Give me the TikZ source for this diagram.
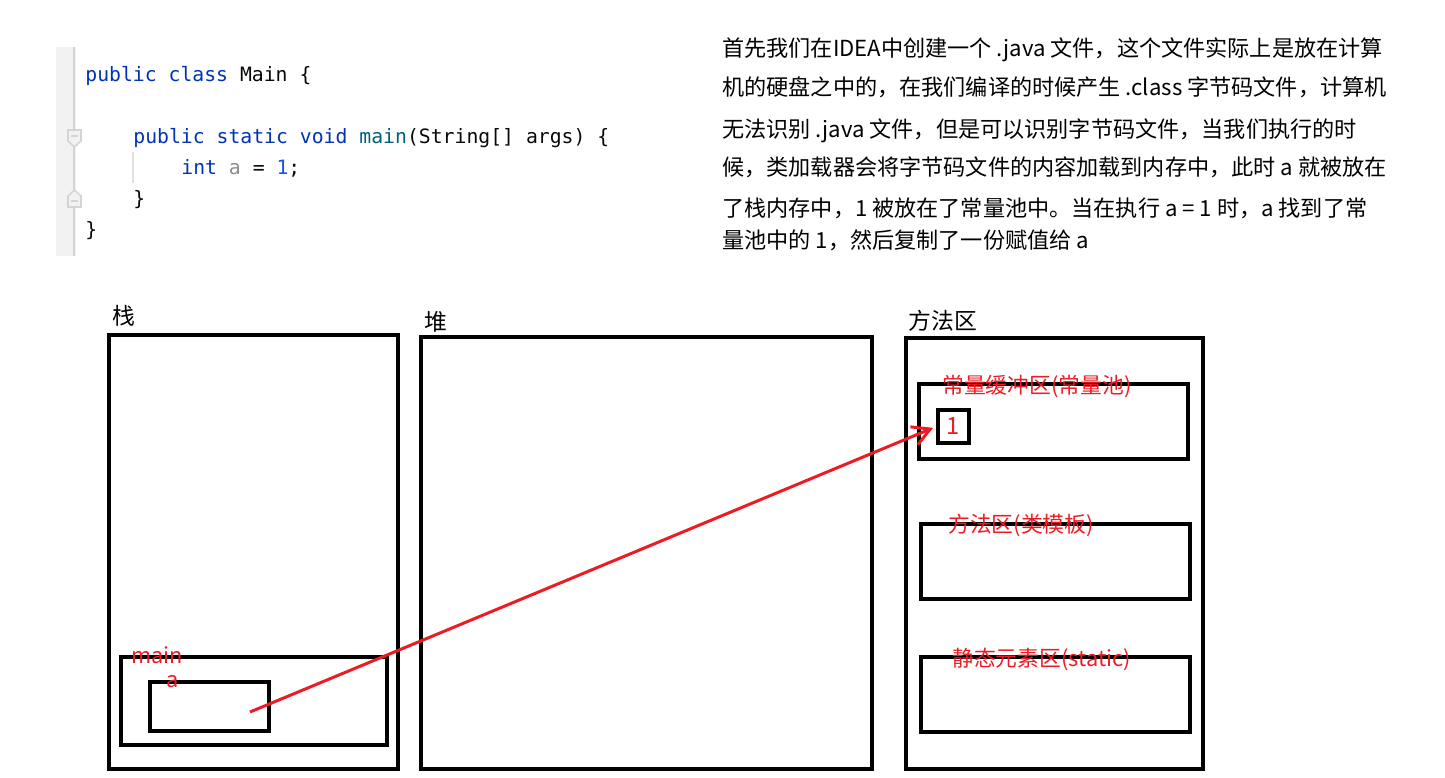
\documentclass[tikz,border=0pt]{standalone}
\usepackage{fontspec}
\setmainfont{Noto Sans CJK SC}
\newfontfamily\codefont{DejaVu Sans Mono}
\usetikzlibrary{arrows.meta,calc}

\definecolor{kwblue}{HTML}{0033B3}
\definecolor{fnteal}{HTML}{00627A}
\definecolor{numblue}{HTML}{1750EB}
\definecolor{unused}{HTML}{8C8C8C}
\definecolor{codeink}{HTML}{080808}
\definecolor{gutterbg}{HTML}{F2F2F2}
\definecolor{gutterln}{HTML}{D4D4D4}
\definecolor{paintred}{HTML}{ED1C24}

\begin{document}
\begin{tikzpicture}[
  x=0.02cm,y=-0.02cm,
  codeline/.style={anchor=base west,inner sep=0pt,text=codeink,font=\codefont\fontsize{11.25}{13}\selectfont},
  paraline/.style={anchor=base west,inner sep=0pt,font=\fontsize{12.6}{15}\selectfont},
  region/.style={draw,line width=1.8pt,inner sep=0pt},
  regionlbl/.style={anchor=base,inner sep=0pt,font=\fontsize{13}{15}\selectfont},
  redlbl/.style={anchor=base west,inner sep=0pt,text=paintred,font=\fontsize{12.4}{14}\selectfont},
  ref/.style={-{Straight Barb[length=10pt,width=11pt]},line width=1.7pt,paintred},
]
\useasboundingbox (0,0) rectangle (1445,778);

% ==== CODE (top left) ====
\fill[gutterbg] (56,47) rectangle (76,256);
\draw[gutterln,line width=1.2pt] (74,47) -- (74,256);
\filldraw[fill=gutterbg,draw=gutterln,line width=0.9pt] (68,130) -- (81,130) -- (81,141) -- (74.5,147) -- (68,141) -- cycle;
\draw[gutterln,line width=0.9pt] (71,136) -- (78,136);
\filldraw[fill=gutterbg,draw=gutterln,line width=0.9pt] (68,207) -- (81,207) -- (81,196) -- (74.5,190) -- (68,196) -- cycle;
\draw[gutterln,line width=0.9pt] (71,201) -- (78,201);
\draw[gutterln!70,line width=0.8pt] (133,152) -- (133,183);

\node[codeline] (cls) at (85,81) {\textcolor{kwblue}{public class} Main \{};
\node[codeline] (mth) at (133,143) {\textcolor{kwblue}{public static void} \textcolor{fnteal}{main}(String[] args) \{};
\node[codeline] (decl) at (181,174) {\textcolor{kwblue}{int} \textcolor{unused}{a} = \textcolor{numblue}{1};};
\node[codeline] (mthend) at (133,205) {\}};
\node[codeline] (clsend) at (85,236) {\}};

% ==== TEXT (top right) ====
\node[paraline] (para1) at (722,56) {首先我们在IDEA中创建一个 .java 文件，这个文件实际上是放在计算};
\node[paraline] (para2) at (722,95) {机的硬盘之中的，在我们编译的时候产生 .class 字节码文件，计算机};
\node[paraline] (para3) at (722,137) {无法识别 .java 文件，但是可以识别字节码文件，当我们执行的时};
\node[paraline] (para4) at (722,175) {候，类加载器会将字节码文件的内容加载到内存中，此时 a 就被放在};
\node[paraline] (para5) at (722,216) {了栈内存中，1 被放在了常量池中。当在执行 a = 1 时，a 找到了常};
\node[paraline] (para6) at (722,248) {量池中的 1，然后复制了一份赋值给 a};

% ==== STACK ====
\node[region,minimum width=5.78cm,minimum height=8.68cm] (stack) at (253.5,552) {};
\node[regionlbl] (stacklbl) at (124,324) {栈};
\node[region,minimum width=5.32cm,minimum height=1.76cm] (mainframe) at (254,701) {};
\node[region,minimum width=2.38cm,minimum height=0.98cm] (avar) at (209.5,706.5) {};
\node[redlbl] (mainlbl) at (131,663) {main};
\node[redlbl] (albl) at (166,687) {a};
\coordinate (aref) at (250,712);

% ==== HEAP ====
\node[region,minimum width=9.02cm,minimum height=8.64cm] (heap) at (646.5,553) {};
\node[regionlbl] (heaplbl) at (436,330) {堆};

% ==== METHOD AREA ====
\node[region,minimum width=5.94cm,minimum height=8.62cm] (methodarea) at (1054.5,553.5) {};
\node[regionlbl,anchor=base west] (arealbl) at (908,329) {方法区};

\node[region,minimum width=5.38cm,minimum height=1.5cm] (pool) at (1053.5,421.5) {};
\node[region,minimum width=0.62cm,minimum height=0.66cm] (one) at (953.5,426.5) {};
\node[text=paintred,font=\fontsize{13.5}{15}\selectfont,inner sep=0pt] (onelbl) at (one) {1};
\node[redlbl] (poollbl) at (942,393) {常量缓冲区(常量池)};

\node[region,minimum width=5.38cm,minimum height=1.5cm] (tmpl) at (1055.5,561.5) {};
\node[redlbl] (tmpllbl) at (948,532) {方法区(类模板)};

\node[region,minimum width=5.38cm,minimum height=1.5cm] (statics) at (1055.5,694.5) {};
\node[redlbl] (staticlbl) at (952,666) {静态元素区(static)};

% a refers to 1 in the constant pool
\draw[ref,shorten >=2pt] (aref) -- (one.west);

\end{tikzpicture}
\end{document}
